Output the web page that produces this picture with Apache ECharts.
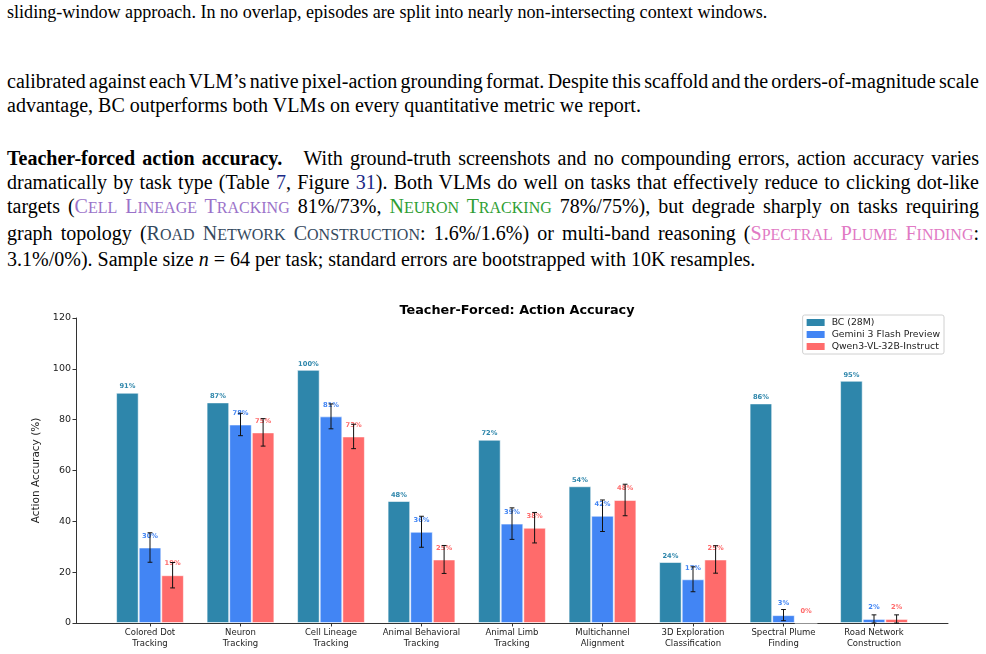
<!DOCTYPE html>
<html>
  <head>
    <meta charset="utf-8" />
    <title>Teacher-Forced: Action Accuracy</title>
    <style>
    html, body {
      margin: 0;
      padding: 0;
      background: #fff;
    }
    .page {
      position: relative;
      width: 986px;
      height: 654px;
      overflow: hidden;
    }
    .para {
      position: absolute;
      left: 7px;
      width: 972px;
      font-family: 'Liberation Serif', 'Times New Roman', serif;
      font-size: 20px;
      line-height: 24.2px;
      color: #000;
    }
    .para.caption {
      font-size: 18.1px;
    }
    .para .ln {
      white-space: nowrap;
      text-align: justify;
      text-align-last: justify;
      word-spacing: -2.5px;
    }
    .para .ln.last {
      text-align-last: left;
      word-spacing: 0;
    }
    .sc small { font-size: 0.8em; }
    .c-cell { color: #9a72c9; }
    .c-neuron { color: #2e9e33; }
    .c-road { color: #34495e; }
    .c-plume { color: #e17ac4; }
    .ref { color: #1b2a87; }
    #chartBox {
      position: absolute;
      left: 0;
      top: 290px;
      width: 986px;
      height: 364px;
    }
    </style>
  </head>
  <body>
    <div class="page">
      <div class="para caption" style="top: 0px;">
        <div class="ln last">sliding-window approach. In no overlap, episodes are split into nearly non-intersecting context windows.</div>
      </div>
      <div class="para" style="top: 69px;">
        <div class="ln">calibrated against each VLM’s native pixel-action grounding format. Despite this scaffold and the orders-of-magnitude scale</div>
        <div class="ln last">advantage, BC outperforms both VLMs on every quantitative metric we report.</div>
      </div>
      <div class="para" style="top: 146px;">
        <div class="ln"><b>Teacher-forced action accuracy.</b>&nbsp;&nbsp; With ground-truth screenshots and no compounding errors, action accuracy varies</div>
        <div class="ln">dramatically by task type (Table <span class="ref">7</span>, Figure <span class="ref">31</span>). Both VLMs do well on tasks that effectively reduce to clicking dot-like</div>
        <div class="ln">targets (<span class="sc c-cell">C<small>ELL</small> L<small>INEAGE</small> T<small>RACKING</small></span> 81%/73%, <span class="sc c-neuron">N<small>EURON</small> T<small>RACKING</small></span> 78%/75%), but degrade sharply on tasks requiring</div>
        <div class="ln">graph topology (<span class="sc c-road">R<small>OAD</small> N<small>ETWORK</small> C<small>ONSTRUCTION</small></span>: 1.6%/1.6%) or multi-band reasoning (<span class="sc c-plume">S<small>PECTRAL</small> P<small>LUME</small> F<small>INDING</small></span>:</div>
        <div class="ln last">3.1%/0%). Sample size <i>n</i> = 64 per task; standard errors are bootstrapped with 10K resamples.</div>
      </div>
      <div id="chartBox"></div>
    </div>
  </body>
  <script src="https://cdn.jsdelivr.net/npm/echarts@6/dist/echarts.min.js"></script>
  <script>
    // 数据
    var categories = [
      'Colored Dot\nTracking', 'Neuron\nTracking', 'Cell Lineage\nTracking',
      'Animal Behavioral\nTracking', 'Animal Limb\nTracking', 'Multichannel\nAlignment',
      '3D Exploration\nClassification', 'Spectral Plume\nFinding', 'Road Network\nConstruction'
    ];
    var seriesNames = ['BC (28M)', 'Gemini 3 Flash Preview', 'Qwen3-VL-32B-Instruct'];
    var bcValues = [90.6, 86.8, 99.6, 48.0, 72.1, 53.8, 24.0, 86.4, 95.3];
    var geminiValues = [29.7, 78.1, 81.3, 35.9, 39.1, 42.2, 17.2, 3.1, 1.6];
    var qwenValues = [18.8, 75.0, 73.4, 25.0, 37.5, 48.4, 25.0, 0, 1.6];
    var geminiErr = [5.8, 4.4, 4.9, 6.1, 6.2, 6.2, 4.9, 2.2, 1.6];
    var qwenErr = [5.0, 5.4, 4.8, 5.5, 6.0, 6.2, 5.4, 0, 1.6];
    var yTicks = [0, 20, 40, 60, 80, 100, 120];

    var colorArr = ['#2E86AB', '#4285F4', '#FF6B6B'];
    var _barWidth = 22.6;
    var _font = 'DejaVu Sans';

    /**
     * 误差线数据 [类目索引, 值, 误差]
     */
    function getErrData(values, errs) {
      var sb = [];
      for (var i = 0; i < values.length; i++) {
        sb.push([i, values[i], errs[i]]);
      }
      return sb;
    }

    /**
     * 误差线绘制, idx 为柱子在组内的位置
     */
    function errRender(idx) {
      return function(params, api) {
        var i = api.value(0), v = api.value(1), e = api.value(2);
        if (!e) return;
        var off = (idx - 1) * _barWidth;
        var top = api.coord([i, v + e]);
        var bot = api.coord([i, Math.max(v - e, 0)]);
        var x = top[0] + off, cap = 2.4;
        var style = { stroke: '#111', lineWidth: 1 };
        return {
          type: 'group',
          children: [
            { type: 'line', shape: { x1: x, y1: top[1], x2: x, y2: bot[1] }, style: style },
            { type: 'line', shape: { x1: x - cap, y1: top[1], x2: x + cap, y2: top[1] }, style: style },
            { type: 'line', shape: { x1: x - cap, y1: bot[1], x2: x + cap, y2: bot[1] }, style: style }
          ]
        };
      };
    }

    function barSeries(name, data, color, dist) {
      return {
        name: name,
        type: 'bar',
        xAxisIndex: 1,
        yAxisIndex: 1,
        barWidth: _barWidth,
        barGap: '0%',
        data: data,
        itemStyle: {
          color: color,
          borderColor: 'rgba(255,255,255,0.55)',
          borderWidth: 1
        },
        label: {
          show: true,
          position: 'top',
          distance: dist,
          formatter: function(p) { return Math.round(p.value) + '%'; },
          fontFamily: _font,
          fontSize: 6.7,
          fontWeight: 'bold',
          color: color
        },
        z: 2
      };
    }

    function createChart(id) {
      var myChart = echarts.init(document.getElementById(id), null, { renderer: 'canvas' });
      var axisColor = '#333';
      var option = {
        backgroundColor: 'transparent',
        animation: false,
        title: {
          text: 'Teacher-Forced: Action Accuracy',
          left: 512,
          textAlign: 'center',
          top: 9,
          textStyle: {
            fontFamily: _font,
            fontSize: 12.8,
            fontWeight: 'bold',
            color: '#000'
          }
        },
        legend: {
          data: seriesNames,
          orient: 'vertical',
          right: 42,
          top: 25,
          padding: [3, 4, 3, 4],
          itemGap: 3,
          itemWidth: 18,
          itemHeight: 7,
          borderColor: '#d0d0d0',
          borderWidth: 1,
          borderRadius: 2,
          backgroundColor: 'rgba(255,255,255,0.8)',
          icon: 'rect',
          itemStyle: { borderWidth: 0 },
          textStyle: {
            fontFamily: _font,
            fontSize: 9.3,
            color: '#222',
            padding: [0, 0, 0, 2]
          }
        },
        grid: [
          { left: 76, right: 38, top: 28, bottom: 31 },
          { left: 104.75, right: 66.75, top: 28, bottom: 31 }
        ],
        xAxis: [
          {
            type: 'value',
            gridIndex: 0,
            min: 0,
            max: 1,
            axisLine: { show: true, lineStyle: { color: axisColor, width: 1 } },
            axisTick: { show: false },
            axisLabel: { show: false },
            splitLine: { show: false }
          },
          {
            type: 'category',
            gridIndex: 1,
            data: categories,
            axisLine: { show: false },
            axisTick: {
              show: true,
              alignWithLabel: true,
              length: 3.5,
              lineStyle: { color: axisColor, width: 1 }
            },
            axisLabel: {
              interval: 0,
              margin: 5,
              fontFamily: _font,
              fontSize: 8.5,
              lineHeight: 10.2,
              color: '#222'
            },
            splitLine: { show: false }
          }
        ],
        yAxis: [
          {
            type: 'value',
            gridIndex: 0,
            min: yTicks[0],
            max: yTicks[yTicks.length - 1],
            interval: 20,
            name: 'Action Accuracy (%)',
            nameLocation: 'middle',
            nameRotate: 90,
            nameGap: 24,
            nameTextStyle: { fontFamily: _font, fontSize: 10.5, color: '#222' },
            axisLine: { show: true, lineStyle: { color: axisColor, width: 1 } },
            axisTick: { show: true, length: 3.5, lineStyle: { color: axisColor, width: 1 } },
            axisLabel: { margin: 5, fontFamily: _font, fontSize: 9.5, color: '#222' },
            splitLine: { show: false }
          },
          {
            type: 'value',
            gridIndex: 1,
            min: yTicks[0],
            max: yTicks[yTicks.length - 1],
            show: false
          }
        ],
        series: [
          barSeries(seriesNames[0], bcValues, colorArr[0], 2.5),
          barSeries(seriesNames[1], geminiValues, colorArr[1], 8),
          barSeries(seriesNames[2], qwenValues, colorArr[2], 8),
          {
            type: 'custom',
            xAxisIndex: 1,
            yAxisIndex: 1,
            renderItem: errRender(1),
            encode: { x: 0, y: 1 },
            data: getErrData(geminiValues, geminiErr),
            silent: true,
            z: 3
          },
          {
            type: 'custom',
            xAxisIndex: 1,
            yAxisIndex: 1,
            renderItem: errRender(2),
            encode: { x: 0, y: 1 },
            data: getErrData(qwenValues, qwenErr),
            silent: true,
            z: 3
          }
        ]
      };
      myChart.setOption(option);
      return myChart;
    }

    createChart('chartBox');
  </script>
</html>
